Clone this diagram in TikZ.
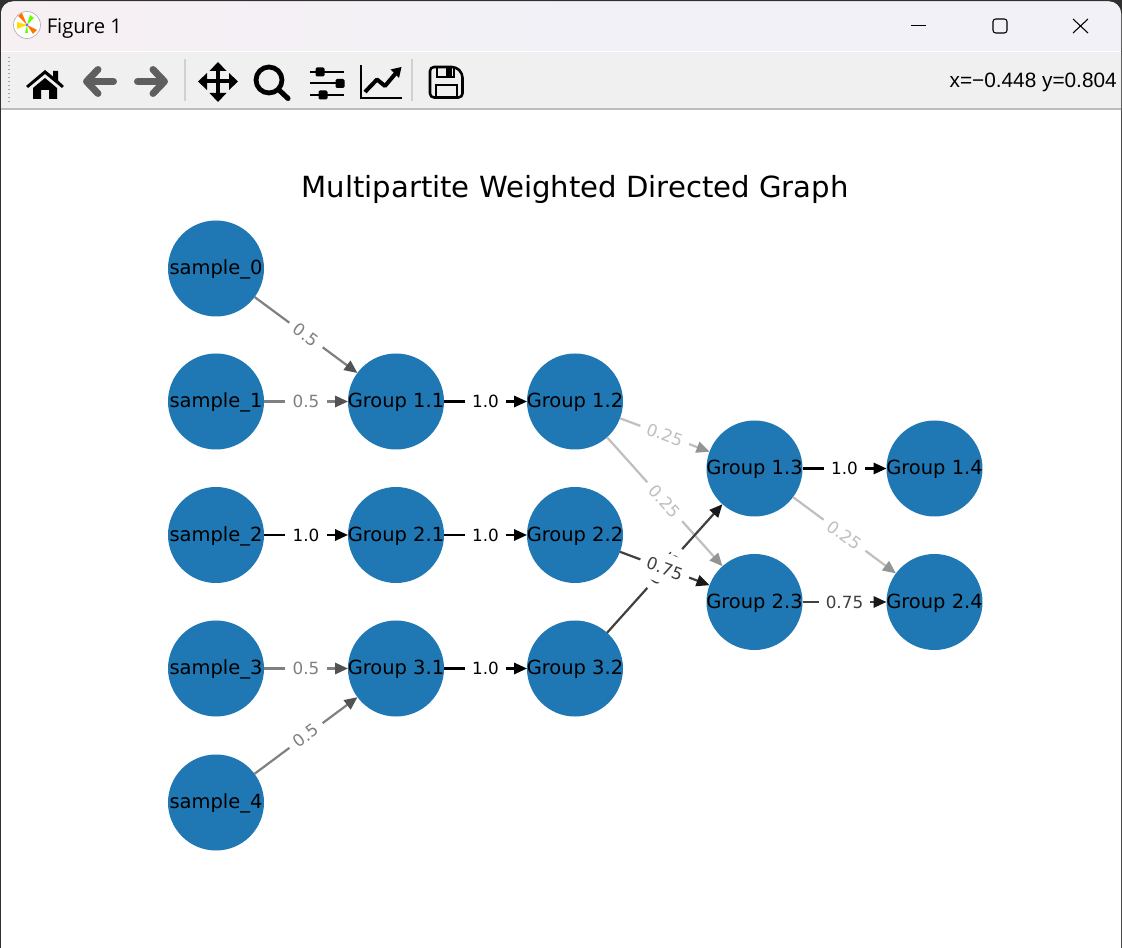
\documentclass[tikz,border=0pt]{standalone}
\usepackage{fontspec}
\setmainfont{DejaVu Sans}
\newfontfamily\winfont{Open Sans}
\newfontfamily\statfont{Liberation Sans}
\usetikzlibrary{arrows.meta}
\definecolor{nodeblue}{RGB}{31,119,180}
\definecolor{barleft}{RGB}{247,240,243}
\definecolor{barright}{RGB}{241,241,247}
\definecolor{toolgrey}{RGB}{240,240,240}
\definecolor{arrowgrey}{RGB}{95,95,95}
\definecolor{ruleline}{RGB}{189,189,189}
\definecolor{winedge}{RGB}{48,48,48}
\newcommand{\vname}[1]{\raisebox{-4.6pt}[0pt][0pt]{\makebox[0pt]{#1}}}
\tikzset{
  vertex/.style={circle, fill=nodeblue, minimum size=72pt, inner sep=0pt, outer sep=0pt, font=\fontsize{14.6}{16}\selectfont, text=black},
  lab/.style={sloped, fill=white, inner xsep=5.4pt, inner ysep=6.5pt, font=\fontsize{12.6}{14}\selectfont},
  wA/.style={line width=1.65pt, draw=black!25, text=black!25, -{Triangle[length=9.75pt,width=8.5pt,color=black!42]}},
  wB/.style={line width=1.65pt, draw=black!50, text=black!50, -{Triangle[length=9.75pt,width=8.5pt,color=black!68]}},
  wC/.style={line width=1.65pt, draw=black!75, text=black!75, -{Triangle[length=9.75pt,width=8.5pt,color=black!90]}},
  wD/.style={line width=1.65pt, draw=black, text=black, -{Triangle[length=9.75pt,width=8.5pt,color=black]}},
  tool/.style={line width=3pt, line cap=round, line join=round},
}

\begin{document}
\begin{tikzpicture}[x=0.75pt, y=-0.75pt]
\useasboundingbox (0,0) rectangle (1122,948);

% Window frame
\fill[winedge] (0,0) rectangle (1122,948);
\fill[white, rounded corners=9pt] (1,1.5) rectangle (1121,960);

% Title bar
\begin{scope}
\clip[rounded corners=9pt] (1,1.5) rectangle (1121,960);
\shade[left color=barleft, right color=barright] (0,0) rectangle (600,51);
\fill[barright] (600,0) rectangle (1122,51);
\fill[toolgrey] (0,52) rectangle (1122,108);
\fill[ruleline] (0,108) rectangle (1122,110);
\end{scope}

% Logo
\filldraw[fill=white, draw=black!30, line width=0.5pt] (27,25) circle (13.5);
\fill[orange!90!red] (27,25) -- (18,16) -- (22,13) -- cycle;
\fill[orange!90!red] (27,25) -- (33,34) -- (37,30) -- cycle;
\fill[yellow!80!orange] (27,25) -- (17,22) -- (17,29) -- cycle;
\fill[green!60!yellow] (27,25) -- (30,15) -- (34,18) -- cycle;
\fill[green!60!yellow] (27,25) -- (25,33) -- (28,33) -- cycle;
\fill[blue!60] (27,25) circle (1.5);
\node[font=\winfont\fontsize{15.2}{18}\selectfont, anchor=west, inner sep=0pt] (wintitle) at (46.5,28.5) {Figure 1};

% Window buttons
\draw[line width=0.7pt] (911,25) -- (926,25);
\draw[line width=0.8pt, rounded corners=2pt] (993,19) rectangle (1007,33);
\draw[line width=0.8pt] (1073,19) -- (1088,33) (1088,19) -- (1073,33);

% Toolbar grip and separators
\draw[black!35, line width=1pt, dotted] (9,57) -- (9,102);
\draw[black!18, line width=1.5pt] (185,59) -- (185,101);
\draw[black!18, line width=1.5pt] (412,59) -- (412,101);

% Home
\fill[black] (45,70) -- (53,76.5) -- (53,71) -- (58,71) -- (58,80.5) -- (64,86) -- (62,88) -- (45,74) -- (28,88) -- (26,86) -- cycle;
\fill[black] (33,88) -- (45,78) -- (57,88) -- (57,99) -- (49,99) -- (49,90) -- (41,90) -- (41,99) -- (33,99) -- cycle;

% Back and forward
\draw[tool, arrowgrey, line width=5.2pt] (98,69.5) -- (86.5,81.5) -- (98,93.5) (86.5,81.5) -- (113.5,81.5);
\draw[tool, arrowgrey, line width=5.2pt] (153,69.5) -- (164.5,81.5) -- (153,93.5) (137.5,81.5) -- (164.5,81.5);

% Pan
\draw[black, line width=3pt] (204,81.5) -- (232,81.5) (218,68) -- (218,95);
\fill[black] (198,81.5) -- (207,73) -- (207,90) -- cycle;
\fill[black] (238,81.5) -- (229,73) -- (229,90) -- cycle;
\fill[black] (218,62) -- (209.5,71) -- (226.5,71) -- cycle;
\fill[black] (218,102) -- (209.5,93) -- (226.5,93) -- cycle;

% Zoom
\draw[black, line width=3.6pt] (269,80) circle (13);
\draw[black, line width=3.8pt, line cap=round] (279,90) -- (288,98.5);

% Sliders
\foreach \yy/\xx in {72/320, 83.5/340, 95/323} {
  \draw[black, line width=1.5pt] (310,\yy) -- (344,\yy);
  \fill[black, rounded corners=1pt] (\xx-4.5,\yy-4.5) rectangle (\xx+4.5,\yy+4.5);
}

% Chart
\draw[black, line width=1.5pt] (361,65) -- (361,98) -- (402,98);
\draw[black, line width=3pt, line join=round] (365,92) -- (377,79.5) -- (385,86) -- (396,73);
\fill[black] (401.5,67) -- (390.5,69.5) -- (399,78) -- cycle;

% Save
\draw[black, line width=1.9pt, rounded corners=3pt, line join=round] (430,67) -- (456,67) -- (462.5,73.5) -- (462.5,97.5) -- (430,97.5) -- cycle;
\draw[black, line width=1.9pt] (437,67) -- (437,77) -- (454,77) -- (454,67);
\fill[black] (446,68) rectangle (452,76);
\draw[black, line width=1.9pt] (436,97) -- (436,85) -- (457,85) -- (457,97);

% Coordinates readout
\node[font=\statfont\fontsize{15.6}{18}\selectfont, anchor=east, inner sep=0pt, text=black] (readout) at (1117,82.5) {x=−0.448 y=0.804};

% Plot title
\node[font=\fontsize{21.85}{26}\selectfont] (plottitle) at (575,189.5) {Multipartite Weighted Directed Graph};

% Column 1
\node[vertex] (s0) at (216,268.5) {\vname{sample\_0}};
\node[vertex] (s1) at (216,401.5) {\vname{sample\_1}};
\node[vertex] (s2) at (216,535) {\vname{sample\_2}};
\node[vertex] (s3) at (216,668.5) {\vname{sample\_3}};
\node[vertex] (s4) at (216,802.5) {\vname{sample\_4}};

% Column 2
\node[vertex] (g11) at (396,401.5) {\vname{Group 1.1}};
\node[vertex] (g21) at (396,535) {\vname{Group 2.1}};
\node[vertex] (g31) at (396,668.5) {\vname{Group 3.1}};

% Column 3
\node[vertex] (g12) at (575,401.5) {\vname{Group 1.2}};
\node[vertex] (g22) at (575,535) {\vname{Group 2.2}};
\node[vertex] (g32) at (575,668.5) {\vname{Group 3.2}};

% Column 4
\node[vertex] (g13) at (754.5,468.5) {\vname{Group 1.3}};
\node[vertex] (g23) at (754.5,602) {\vname{Group 2.3}};

% Column 5
\node[vertex] (g14) at (934.5,468.5) {\vname{Group 1.4}};
\node[vertex] (g24) at (934.5,602) {\vname{Group 2.4}};

% Edges, by weight
\foreach \from/\to in {s0/g11, s1/g11, s3/g31, s4/g31} {
  \draw[wB] (\from) -- node[lab] {0.5} (\to);
}
\foreach \from/\to in {s2/g21, g11/g12, g21/g22, g31/g32, g13/g14} {
  \draw[wD] (\from) -- node[lab] {1.0} (\to);
}
\foreach \from/\to in {g12/g13, g12/g23, g13/g24} {
  \draw[wA] (\from) -- node[lab] {0.25} (\to);
}
\foreach \from/\to in {g32/g13, g22/g23, g23/g24} {
  \draw[wC] (\from) -- node[lab] {0.75} (\to);
}

\end{tikzpicture}
\end{document}
